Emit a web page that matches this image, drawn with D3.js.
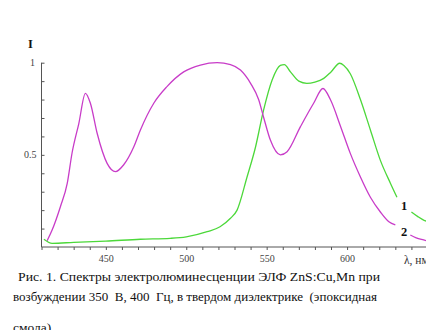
<!DOCTYPE html>
<html>
<head>
<meta charset="utf-8">
<script src="https://cdn.jsdelivr.net/npm/d3@7"></script>
<style>
  html, body { margin: 0; padding: 0; background: #fff; overflow: hidden; }
  svg { display: block; }
  .serif { font-family: "Liberation Serif", "Times New Roman", "DejaVu Serif", "Noto Serif", Times, serif; }
</style>
</head>
<body>
<svg id="chart" width="426" height="330"></svg>
<script>
// Electroluminescence spectra, wavelength (nm) vs. normalised intensity.
// A null value breaks the line where the curve number is written.
const wavelength1 = [411.5, 416.6, 430, 450, 471.5, 490, 500, 513, 521, 527.5, 531.6, 537.8, 543, 548, 553.4, 558.5, 561, 564.8, 570, 575, 580, 585.5, 590, 595.4, 598, 602, 608.3, 614.5, 620.7, 627, 631, 635, 640, 644, 647.6, 650];
const intensity1  = [0.042, 0.02, 0.025, 0.032, 0.042, 0.047, 0.055, 0.083, 0.11, 0.156, 0.2, 0.38, 0.54, 0.74, 0.906, 0.985, 0.99, 0.95, 0.9, 0.888, 0.895, 0.915, 0.95, 0.997, 0.985, 0.94, 0.8, 0.635, 0.47, 0.345, 0.27, null, 0.19, 0.165, 0.146, 0.138];

const wavelength2 = [413.5, 416.6, 421.8, 426, 429, 433.2, 437.3, 440.4, 444.6, 450.8, 456, 461, 467.4, 471.5, 479.8, 488, 498.4, 508.8, 519.2, 527.5, 533.7, 540, 545, 548, 552.3, 558.5, 562.7, 571, 579.2, 585, 589.6, 596, 602, 608.3, 614.5, 620.7, 626, 630, 635, 639.3, 643, 647.6, 650];
const intensity2  = [0.034, 0.092, 0.22, 0.345, 0.51, 0.67, 0.834, 0.78, 0.617, 0.454, 0.409, 0.445, 0.544, 0.635, 0.78, 0.87, 0.95, 0.987, 1.0, 0.99, 0.96, 0.888, 0.8, 0.707, 0.58, 0.5, 0.517, 0.653, 0.78, 0.86, 0.8, 0.653, 0.508, 0.38, 0.27, 0.19, 0.137, 0.12, null, 0.065, 0.05, 0.038, 0.032];

const xTickLabels = [450, 500, 550, 600];
const yTickLabels = [0.5, 1];
const curveNames = ["1", "2"];
const captionLines = [
  "Рис. 1. Спектры электролюминесценции ЭЛФ ZnS:Cu,Mn при",
  "возбуждении 350  В, 400  Гц, в твердом диэлектрике  (эпоксидная",
  "смола)"
];

const svg = d3.select("#chart");

const x = d3.scaleLinear().domain([410, 650]).range([41.5, 427.5]);
const y = d3.scaleLinear().domain([0, 1]).range([247, 62.7]);

// axes
const xAxis = d3.axisBottom(x)
  .tickValues(d3.range(410, 651, 10))
  .tickSize(3)
  .tickFormat(d => xTickLabels.includes(d) ? d : "");
const gx = svg.append("g").attr("transform", `translate(0,${y(0)})`).call(xAxis);
gx.attr("font-family", null);
gx.select(".domain").attr("stroke", "#555").attr("d", `M${x(410)},0H${x(650)}`);
gx.selectAll(".tick line").attr("stroke", "#555");
gx.selectAll(".tick text")
  .attr("class", "serif").attr("font-size", 10).attr("fill", "#444").attr("dy", "0.9em").attr("y", 6);

const yAxis = d3.axisRight(y)
  .tickValues(d3.range(1, 11).map(i => i / 10))
  .tickSize(3)
  .tickFormat(() => "");
const gy = svg.append("g").attr("transform", `translate(${x(410)},0)`).call(yAxis);
gy.select(".domain").attr("stroke", "#555").attr("d", `M0,${y(0)}V${y(1)}`);
gy.selectAll(".tick line").attr("stroke", "#555");

svg.append("g").selectAll("text").data(yTickLabels).join("text")
  .attr("class", "serif")
  .attr("x", d => d === 1 ? 35 : 36.5)
  .attr("y", d => y(d))
  .attr("dy", "0.35em")
  .attr("text-anchor", "end")
  .attr("font-size", 10).attr("fill", "#444")
  .text(d => d);

// axis titles
svg.append("text").attr("class", "serif").attr("x", 30.5).attr("y", 48)
  .attr("text-anchor", "middle")
  .attr("font-size", 12.5).attr("font-weight", "bold").attr("fill", "#111")
  .text("I");
svg.append("text").attr("class", "serif").attr("x", 404).attr("y", 264)
  .attr("font-size", 11.5).attr("fill", "#333")
  .text("λ, нм");

// spectra
const series = [
  { name: curveNames[0], xs: wavelength1, ys: intensity1, color: "#4cd83a" },
  { name: curveNames[1], xs: wavelength2, ys: intensity2, color: "#c83cc8" }
];
const line = d3.line()
  .defined(d => d[1] !== null)
  .x(d => x(d[0]))
  .y(d => y(d[1]))
  .curve(d3.curveMonotoneX);

svg.append("g").selectAll("path").data(series).join("path")
  .attr("fill", "none")
  .attr("stroke", d => d.color)
  .attr("stroke-width", 1.3)
  .attr("stroke-linejoin", "round")
  .attr("d", d => line(d.xs.map((v, i) => [v, d.ys[i]])));

// curve numbers
svg.append("g").selectAll("text").data(series).join("text")
  .attr("class", "serif")
  .attr("x", 404)
  .attr("y", (d, i) => i === 0 ? 210 : 236)
  .attr("text-anchor", "middle")
  .attr("font-size", 12.5).attr("font-weight", "bold").attr("fill", "#111")
  .text(d => d.name);

// caption, each line stretched to its column width
svg.append("g").selectAll("text").data(captionLines).join("text")
  .attr("class", "serif")
  .attr("x", (d, i) => i === 0 ? 18 : 13)
  .attr("y", (d, i) => [281, 301, 332][i])
  .attr("font-size", 13.5).attr("fill", "#111")
  .style("white-space", "pre")
  .each(function (d, i) {
    const widths = [362, 364, null];
    if (widths[i]) d3.select(this).attr("textLength", widths[i]).attr("lengthAdjust", "spacingAndGlyphs");
  })
  .text(d => d);
</script>
</body>
</html>
